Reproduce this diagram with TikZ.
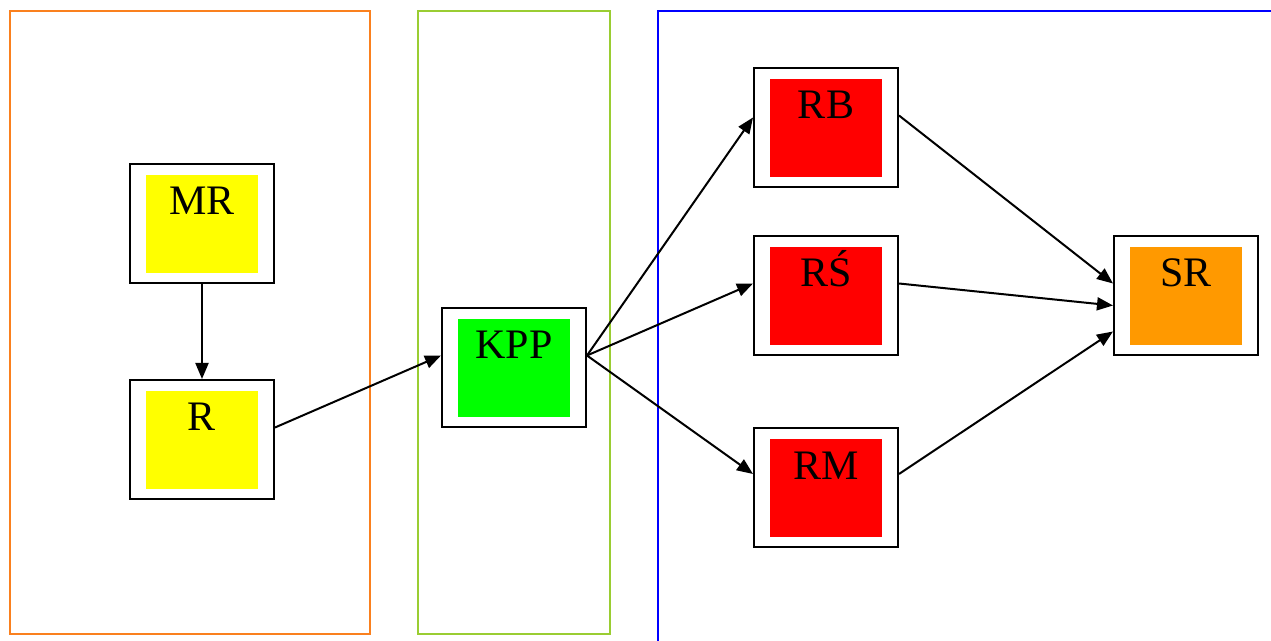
\documentclass[tikz,border=0pt]{standalone}
\usepackage{fontspec}
\setmainfont{Liberation Serif}
\usetikzlibrary{arrows.meta}
\definecolor{clorange}{RGB}{250,128,30}
\definecolor{clgreen}{RGB}{154,205,50}
\definecolor{fillorange}{RGB}{255,153,0}
\definecolor{fillyellow}{RGB}{255,255,0}
\tikzset{
  nodebox/.style={draw=black, line width=1pt, fill=white, inner sep=0pt,
    text width=72pt, align=center, text height=25.5pt, text depth=34pt,
    font=\fontsize{21}{21}\selectfont,
    path picture={\fill[#1] ([shift={(8pt,-5.5pt)}]path picture bounding box.north west)
      rectangle ([shift={(-8pt,5pt)}]path picture bounding box.south east);}},
  cluster/.style={line width=1pt},
  edge/.style={line width=1pt, -{Triangle[length=8pt,width=6.5pt]}}
}
\begin{document}
\begin{tikzpicture}[x=0.5pt,y=-0.5pt]
\useasboundingbox (0,0) rectangle (1271,641);
\draw[cluster, clorange] (10,11) rectangle (370,634);
\draw[cluster, clgreen] (418,11) rectangle (610,634);
\draw[cluster, blue] (658,11) rectangle (1300,680);

\node[nodebox=fillyellow] (mr) at (202,223.5) {MR};
\node[nodebox=fillyellow] (r) at (202,439.5) {R};
\node[nodebox=green] (kpp) at (514,367.5) {KPP};
\node[nodebox=red] (rb) at (826,127.5) {RB};
\node[nodebox=red] (rs) at (826,295.5) {RŚ};
\node[nodebox=red] (rm) at (826,488) {RM};
\node[nodebox=fillorange] (sr) at (1186,295.5) {SR};

\draw[edge] (mr) -- (r);
\draw[edge] ([yshift=6pt]r.east) -- ([yshift=6pt]kpp.west);
\draw[edge] ([yshift=6pt]kpp.east) -- ([yshift=5pt]rb.west);
\draw[edge] ([yshift=6pt]kpp.east) -- ([yshift=6pt]rs.west);
\draw[edge] ([yshift=6pt]kpp.east) -- ([yshift=7pt]rm.west);
\draw[edge] ([yshift=6pt]rb.east) -- ([yshift=6pt]sr.west);
\draw[edge] ([yshift=6pt]rs.east) -- ([yshift=-5pt]sr.west);
\draw[edge] ([yshift=7pt]rm.east) -- ([yshift=-18pt]sr.west);
\end{tikzpicture}
\end{document}
